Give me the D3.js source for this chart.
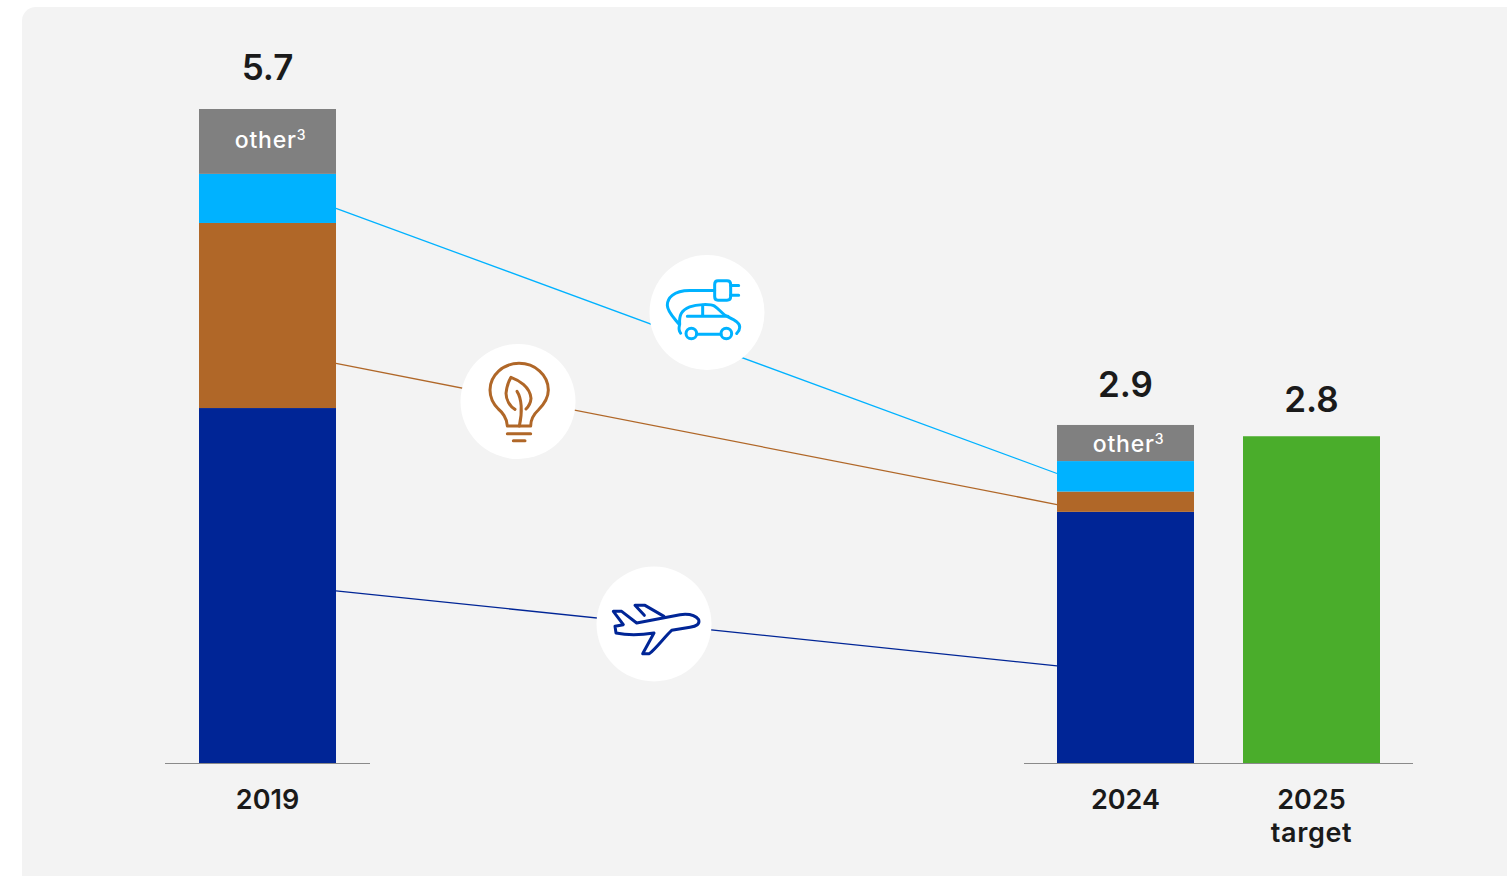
<!DOCTYPE html>
<html>
<head>
<meta charset="utf-8">
<script src="https://cdn.jsdelivr.net/npm/d3@7/dist/d3.min.js"></script>
<style>
  html, body { margin: 0; padding: 0; background: #fff; overflow: hidden; }
  svg { display: block; }
  text { font-family: "Inter", "Noto Sans", sans-serif; fill: #1a1a1a; }
</style>
</head>
<body>
<div id="chart"></div>
<script>
// Chart values
const years = ["2019", "2024", "2025"];
const yearNotes = ["", "", "target"];
const totals = [5.7, 2.9, 2.8];
const segmentNames = ["aviation", "buildings", "vehicles", "other"];
const aviation = [3.05, 2.13];
const buildings = [1.64, 0.18];
const vehicles = [0.435, 0.27];
const other = [0.575, 0.32];
const otherLabel = "other";
const otherNote = "3";

// Where each connector meets the 2019 and 2024 bars, in chart units
const vehiclesLink = [4.82, 2.47];
const buildingsLink = [3.445, 2.195];
const aviationLink = [1.43, 0.765];

const width = 1507, height = 876;
const colors = {
  aviation: "#002596", buildings: "#b06728", vehicles: "#00b2ff",
  other: "#808080", target: "#4aad2b", panel: "#f3f3f3", axis: "#8a8a8a"
};

const barWidth = 137;
const x = d3.scaleOrdinal().domain(years).range([199, 1057, 1243]);
// The axis line sits a little below zero, so the bars stand slightly proud of it
const y = d3.scaleLinear().domain([-0.1, 5.7]).range([763.5, 109]);

const svg = d3.select("#chart").append("svg")
  .attr("width", width).attr("height", height);

// Panel runs off the right and bottom edges of the page
svg.append("rect")
  .attr("x", 22).attr("y", 7)
  .attr("width", width + 40).attr("height", height + 40)
  .attr("rx", 14)
  .attr("fill", colors.panel);

// Stacked bars for the two measured years
const stackRows = [0, 1].map(i => ({
  year: years[i],
  aviation: aviation[i], buildings: buildings[i], vehicles: vehicles[i], other: other[i]
}));
const series = d3.stack().keys(segmentNames)(stackRows);

svg.append("g").selectAll("g")
  .data(series)
  .join("g")
  .attr("fill", s => colors[s.key])
  .selectAll("rect")
  .data(s => s.map(p => ({ p, year: p.data.year, first: s.index === 0 })))
  .join("rect")
  .attr("x", d => x(d.year))
  .attr("width", barWidth)
  .attr("y", d => y(d.p[1]))
  .attr("height", d => (d.first ? y.range()[0] : y(d.p[0])) - y(d.p[1]));

// Target bar
svg.append("rect")
  .attr("x", x(years[2]))
  .attr("width", barWidth)
  .attr("y", y(totals[2]))
  .attr("height", y.range()[0] - y(totals[2]))
  .attr("fill", colors.target);

// Connectors between the 2019 and 2024 segments
const linkLine = d3.line().x(d => d[0]).y(d => y(d[1]));
const links = [
  { key: "vehicles", values: vehiclesLink },
  { key: "buildings", values: buildingsLink },
  { key: "aviation", values: aviationLink }
];
svg.append("g").selectAll("path")
  .data(links)
  .join("path")
  .attr("fill", "none")
  .attr("stroke", d => colors[d.key])
  .attr("stroke-width", 1.3)
  .attr("d", d => linkLine([
    [x(years[0]) + barWidth, d.values[0]],
    [x(years[1]), d.values[1]]
  ]));

// Baselines under each bar group
const baselines = [[165, 370], [1024, 1413]];
svg.append("g").selectAll("line")
  .data(baselines)
  .join("line")
  .attr("x1", d => d[0]).attr("x2", d => d[1])
  .attr("y1", y.range()[0]).attr("y2", y.range()[0])
  .attr("stroke", colors.axis)
  .attr("stroke-width", 1);

// Category icons: white discs with line drawings on top
const icons = [
  {
    key: "vehicles", cx: 707, cy: 312.5, ox: 352, oy: 187,
    paths: [
      "M375 121H300C250 121 233 145 233 165C233 185 255 205 268 222",
      "M385 92H412Q423 92 423 103V139Q423 150 412 150H385Q375 150 375 139V103Q375 92 385 92Z",
      "M423 106H447M423 135H447",
      "M273 249C265 240 268 232 270 222C268 195 275 180 300 170C320 163 360 160 375 168C390 178 400 195 415 200C435 210 452 218 450 232C450 240 445 245 441 250",
      "M293 198H415M339 165V198M321 252H394"
    ],
    wheels: [[305, 250], [410, 250]]
  },
  {
    key: "buildings", cx: 518, cy: 401.5, ox: 204, oy: 184.5,
    paths: [
      "M172 258C172 235 155 215 145 207C128 190 120 170 120 150C120 105 160 70 207 70C255 70 295 105 295 150C295 175 280 195 265 210C252 222 242 238 242 258Z",
      "M172 281H242M190 302H225",
      "M195 208C180 200 168 180 168 160C170 140 175 125 183 112C205 120 240 140 243 175C242 190 235 200 228 207",
      "M201 154C215 175 218 215 208 258"
    ],
    wheels: []
  },
  {
    key: "aviation", cx: 654, cy: 624, ox: 192, oy: 178,
    paths: [
      "M140 175L95 140H70L100 180L75 185L78 205C110 212 150 212 192 205L158 267H178C200 250 225 215 245 197L300 188C320 185 330 178 326 165C315 150 295 147 270 150Z",
      "M222 155L165 122H135L163 152"
    ],
    wheels: []
  }
];

const iconGroups = svg.append("g").selectAll("g")
  .data(icons)
  .join("g")
  .attr("transform", d => `translate(${d.cx},${d.cy})`);

iconGroups.append("circle").attr("r", 57.5).attr("fill", "#fff");

const drawings = iconGroups.append("g")
  .attr("transform", d => `scale(${1 / 3}) translate(${-d.ox},${-d.oy})`)
  .attr("fill", "none")
  .attr("stroke", d => colors[d.key])
  .attr("stroke-width", 9)
  .attr("stroke-linecap", "round")
  .attr("stroke-linejoin", "round");

drawings.selectAll("path")
  .data(d => d.paths)
  .join("path")
  .attr("d", d => d);

drawings.selectAll("circle")
  .data(d => d.wheels)
  .join("circle")
  .attr("cx", d => d[0]).attr("cy", d => d[1]).attr("r", 16);

// Totals above the bars; the target figure sits closer to its bar
const totalGaps = [29, 28, 24];
svg.append("g").selectAll("text")
  .data(years)
  .join("text")
  .attr("x", d => x(d) + barWidth / 2)
  .attr("y", (d, i) => y(totals[i]) - totalGaps[i])
  .attr("text-anchor", "middle")
  .attr("font-size", 35)
  .attr("font-weight", 600)
  .text((d, i) => totals[i].toFixed(1));

// "other" labels inside the top segments
const otherLabels = svg.append("g").selectAll("text")
  .data(stackRows)
  .join("text")
  .attr("x", d => x(d.year) + barWidth / 2 + 3)
  .attr("y", (d, i) => y(totals[i]) + (i === 0 ? 39 : 27))
  .attr("text-anchor", "middle")
  .attr("font-size", 23)
  .attr("font-weight", 500)
  .attr("letter-spacing", 0.8)
  .style("fill", "#fff");
otherLabels.append("tspan").text(otherLabel);
otherLabels.append("tspan").attr("font-size", 14).attr("dy", -8).text(otherNote);

// Year labels below the baseline
svg.append("g").selectAll("text")
  .data(years)
  .join("text")
  .attr("x", d => x(d) + barWidth / 2)
  .attr("y", 809)
  .attr("text-anchor", "middle")
  .attr("font-size", 27)
  .attr("font-weight", 600)
  .text(d => d);

svg.append("g").selectAll("text")
  .data(years.filter((d, i) => yearNotes[i]))
  .join("text")
  .attr("x", d => x(d) + barWidth / 2)
  .attr("y", 842)
  .attr("text-anchor", "middle")
  .attr("font-size", 27)
  .attr("font-weight", 600)
  .attr("letter-spacing", 0.6)
  .text(d => yearNotes[years.indexOf(d)]);
</script>
</body>
</html>
